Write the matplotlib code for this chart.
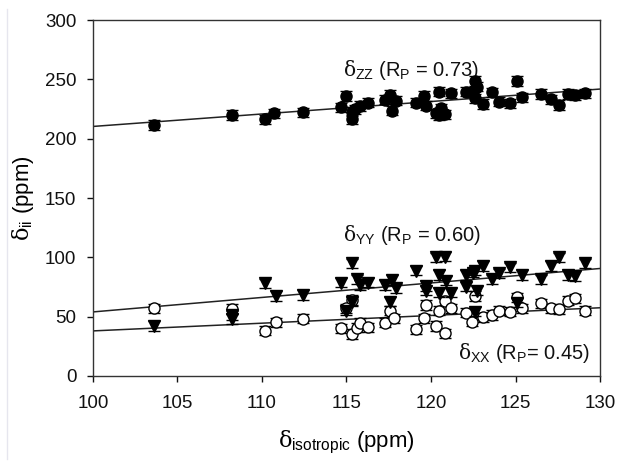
import numpy as np
import matplotlib
matplotlib.use("Agg")
import matplotlib.pyplot as plt

plt.rcParams['font.family'] = ['Liberation Sans', 'DejaVu Sans']
plt.rcParams['mathtext.fontset'] = 'custom'
plt.rcParams['mathtext.rm'] = 'Liberation Sans'
plt.rcParams['mathtext.sf'] = 'Liberation Sans'
plt.rcParams['mathtext.it'] = 'DejaVu Serif'

# ---- data ----
zz_x = [103.6, 108.2, 110.2, 110.7, 112.4, 114.7, 115.0, 115.3, 115.3, 115.5,
        115.8, 116.3, 117.3, 117.6, 117.9, 117.7, 119.1, 119.6, 119.7, 120.5,
        121.2, 122.1, 120.3, 120.6, 120.8, 120.5, 122.5, 122.6, 122.7, 122.6,
        123.1, 123.6, 124.0, 124.7, 125.1, 125.4, 126.5, 127.1, 127.6, 128.1,
        128.5, 129.1]
zz_y = [211.5, 219.9, 216.3, 221.3, 222.2, 226.4, 236.0, 222.7, 216.3, 224.7,
        227.5, 230.3, 233.0, 236.6, 232.0, 223.6, 230.3, 236.0, 227.8, 239.6,
        238.2, 239.6, 221.4, 225.6, 220.4, 219.6, 239.6, 248.8, 243.8, 234.0,
        229.2, 239.0, 231.2, 229.8, 248.8, 234.8, 237.6, 233.1, 228.4, 237.6,
        236.8, 238.2]

yy_x = [103.6, 108.2, 108.2, 110.2, 110.8, 112.4, 114.7, 115.3, 115.6, 115.8,
        116.3, 117.3, 117.7, 117.9, 117.6, 115.3, 115.0, 119.1, 119.7, 119.7,
        120.3, 120.8, 120.5, 120.9, 120.5, 121.2, 122.1, 122.1, 122.5, 122.6,
        122.7, 123.1, 123.6, 124.0, 124.7, 125.4, 126.5, 127.1, 127.6, 128.1,
        128.5, 129.1, 125.1, 122.6]
yy_y = [42.1, 51.0, 48.0, 78.1, 67.4, 68.3, 78.6, 95.0, 81.5, 76.7,
        78.6, 76.7, 80.9, 73.9, 62.6, 62.6, 55.0, 88.7, 75.8, 71.9,
        100.0, 100.6, 85.1, 80.3, 70.2, 70.2, 75.3, 85.1, 87.1, 88.7,
        71.9, 92.7, 81.5, 86.5, 91.6, 85.1, 81.5, 92.7, 100.0, 85.1,
        84.3, 95.0, 61.8, 54.2]

xx_x = [103.6, 108.2, 110.2, 110.8, 112.4, 115.3, 115.0, 114.7, 115.3, 115.6,
        115.8, 116.3, 117.3, 117.6, 117.8, 119.1, 119.7, 119.6, 120.3, 120.8,
        120.5, 120.8, 121.2, 122.1, 122.4, 122.6, 123.1, 123.6, 124.0, 124.7,
        125.1, 125.4, 126.5, 127.1, 127.6, 128.1, 128.5, 129.1]
xx_y = [57.0, 56.5, 38.2, 45.2, 48.3, 64.0, 57.0, 40.2, 35.4, 40.7,
        44.9, 41.0, 44.9, 55.0, 48.6, 39.3, 59.8, 48.6, 42.1, 36.0,
        55.0, 63.5, 57.0, 53.4, 45.8, 67.4, 49.5, 51.4, 55.0, 54.2,
        66.3, 57.0, 61.2, 57.0, 56.2, 63.5, 65.5, 55.0]

err = 4.0

# regression lines: value at x=100 and slope (ppm/ppm)
fit_x = [100, 130]
zz_fit = (210.3, 1.05)
yy_fit = (54.0, 1.22)
xx_fit = (38.0, 0.65)

labels = [r'$\delta_{\mathrm{ZZ}}$ (R$_{\mathrm{P}}$ = 0.73)',
          r'$\delta_{\mathrm{YY}}$ (R$_{\mathrm{P}}$ = 0.60)',
          r'$\delta_{\mathrm{XX}}$ (R$_{\mathrm{P}}$= 0.45)']
label_pos = [(114.8, 258.0), (114.8, 119.0), (121.6, 19.5)]

xticks = [100, 105, 110, 115, 120, 125, 130]
yticks = [0, 50, 100, 150, 200, 250, 300]

# ---- figure ----
fig = plt.figure(figsize=(6.24, 4.68), dpi=100)
ax = fig.add_axes([93/624, 1-376/468, (600-93)/624, (376-20)/468])

fx = np.array(fit_x, dtype=float)
for b0, m in (zz_fit, yy_fit, xx_fit):
    ax.plot(fx, b0 + m*(fx-100), color='#222222', lw=1.1, zorder=1)

ax.errorbar(xx_x, xx_y, yerr=err, fmt='o', ms=8, mfc='white', mec='black',
            mew=1.0, ecolor='black', elinewidth=1.0, capsize=4, capthick=1.0, zorder=3)
ax.errorbar(yy_x, yy_y, yerr=err, fmt='v', ms=9, mfc='black', mec='black',
            ecolor='black', elinewidth=1.0, capsize=4, capthick=1.0, zorder=4)
ax.errorbar(zz_x, zz_y, yerr=err, fmt='o', ms=8, mfc='black', mec='black',
            ecolor='black', elinewidth=1.0, capsize=4, capthick=1.0, zorder=4)

for lab, (tx, ty) in zip(labels, label_pos):
    ax.text(tx, ty, lab, fontsize=14.5, ha='left', va='center', color='#111111')

ax.set_xlim(100, 130)
ax.set_ylim(0, 300)
ax.set_xticks(xticks)
ax.set_yticks(yticks)
ax.tick_params(direction='out', length=4, width=1, labelsize=13.5, colors='#111111',
               top=False, right=False)
ax.tick_params(axis='x', pad=10)
ax.tick_params(axis='y', pad=8)
for s in ax.spines.values():
    s.set_linewidth(1.0)
    s.set_color('#333333')

ax.set_xlabel(r'$\delta_{\mathrm{isotropic}}$ (ppm)', fontsize=16, labelpad=12)
ax.set_ylabel(r'$\delta_{\mathrm{ii}}$ (ppm)', fontsize=16, labelpad=6)

fig.add_artist(plt.Line2D([7/624, 7/624], [0.02, 0.98], color='#e6e6ee', lw=1))

fig.savefig('out.png', dpi=100)
